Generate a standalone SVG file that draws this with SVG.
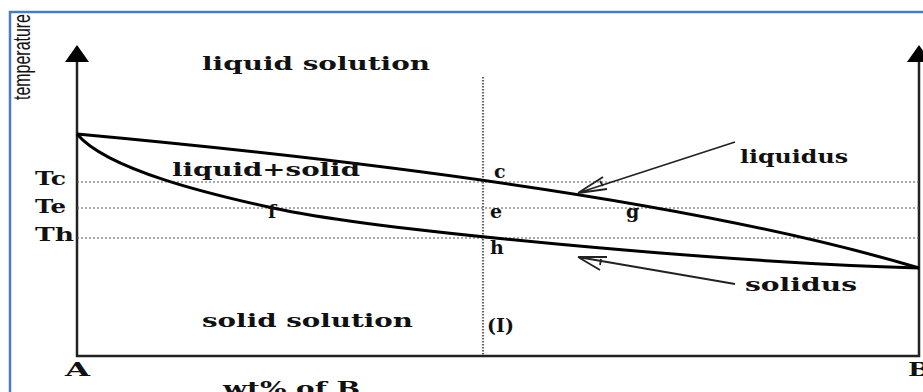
<svg xmlns="http://www.w3.org/2000/svg" width="923" height="392" viewBox="0 0 923 392">
<style>
.lbl{font-family:"DejaVu Serif","Liberation Serif",serif;font-weight:bold;fill:#111;}
.big{font-size:19px;}
.med{font-size:19px;}
.axis{stroke:#222;stroke-width:2.5;fill:none;}
.curve{stroke:#000;stroke-width:3;fill:none;}
.dash{stroke:#555;stroke-width:1.2;stroke-dasharray:2,2;fill:none;}
.vdot{stroke:#666;stroke-width:2.2;stroke-dasharray:1.5,1.5;fill:none;}
.lead{stroke:#222;stroke-width:1.8;fill:none;}
</style>
<rect width="923" height="392" fill="#fff"/>
<rect x="10" y="12" width="930" height="400" fill="none" stroke="#4a7cc4" stroke-width="2.5"/>
<g id="axes">
<path class="axis" d="M77,60 V356 H919 V60"/>
<polygon points="77,45 65,62 89,62" fill="#000"/>
<polygon points="919,45 907,62 931,62" fill="#000"/>
</g>
<g id="guides">
<path class="dash" d="M77,182 H919 M77,208 H919 M77,238 H919"/>
<path class="vdot" d="M483,77 V356"/>
</g>
<g id="connectors">
<path id="liquidus-curve" class="curve" d="M77,134 Q647,186.5 919,268"/>
<path id="solidus-curve" class="curve" d="M77,134 C107,170 213,195 273,208 C373,230 715,262 919,268"/>
<path id="liquidus-arrow" class="lead" d="M735,142 L578,193 M578,193 L603,177 M578,193 L607,189 M600,181 L603,186"/>
<path id="solidus-arrow" class="lead" d="M735,284 L578,257 M578,257 L607,257 M578,257 L600,270 M601,259 L600,265"/>
</g>
<g id="temperature-label"><text style="font-family:'Liberation Sans Narrow','Liberation Sans',sans-serif;font-size:24px;fill:#111" transform="translate(30,100) rotate(-90)" textLength="86" lengthAdjust="spacingAndGlyphs">temperature</text></g>
<g id="liquid-solution"><text class="lbl big" x="202" y="70" textLength="228" lengthAdjust="spacingAndGlyphs">liquid solution</text></g>
<g id="liquid-solid"><text class="lbl big" x="172" y="176" textLength="188" lengthAdjust="spacingAndGlyphs">liquid+solid</text></g>
<g id="solid-solution"><text class="lbl big" x="202" y="327" textLength="211" lengthAdjust="spacingAndGlyphs">solid solution</text></g>
<g id="liquidus-label"><text class="lbl big" x="740" y="163" textLength="108" lengthAdjust="spacingAndGlyphs">liquidus</text></g>
<g id="solidus-label"><text class="lbl big" x="745" y="291" textLength="112" lengthAdjust="spacingAndGlyphs">solidus</text></g>
<g id="Tc"><text class="lbl med" x="35" y="185" textLength="31" lengthAdjust="spacingAndGlyphs">Tc</text></g>
<g id="Te"><text class="lbl med" x="35" y="213" textLength="31" lengthAdjust="spacingAndGlyphs">Te</text></g>
<g id="Th"><text class="lbl med" x="35" y="241" textLength="39" lengthAdjust="spacingAndGlyphs">Th</text></g>
<g id="c"><text class="lbl med" x="494" y="178">c</text></g>
<g id="e"><text class="lbl med" x="490" y="218">e</text></g>
<g id="f"><text class="lbl med" x="268" y="218">f</text></g>
<g id="g"><text class="lbl med" x="626" y="218">g</text></g>
<g id="h"><text class="lbl med" x="490" y="254">h</text></g>
<g id="I"><text class="lbl med" x="487" y="332">(I)</text></g>
<g id="A"><text class="lbl med" x="65" y="376" textLength="25" lengthAdjust="spacingAndGlyphs">A</text></g>
<g id="B"><text class="lbl med" x="908" y="376" textLength="22" lengthAdjust="spacingAndGlyphs">B</text></g>
<g id="xlabel"><text class="lbl big" x="223" y="395" textLength="137" lengthAdjust="spacingAndGlyphs">wt% of B</text></g>
</svg>
